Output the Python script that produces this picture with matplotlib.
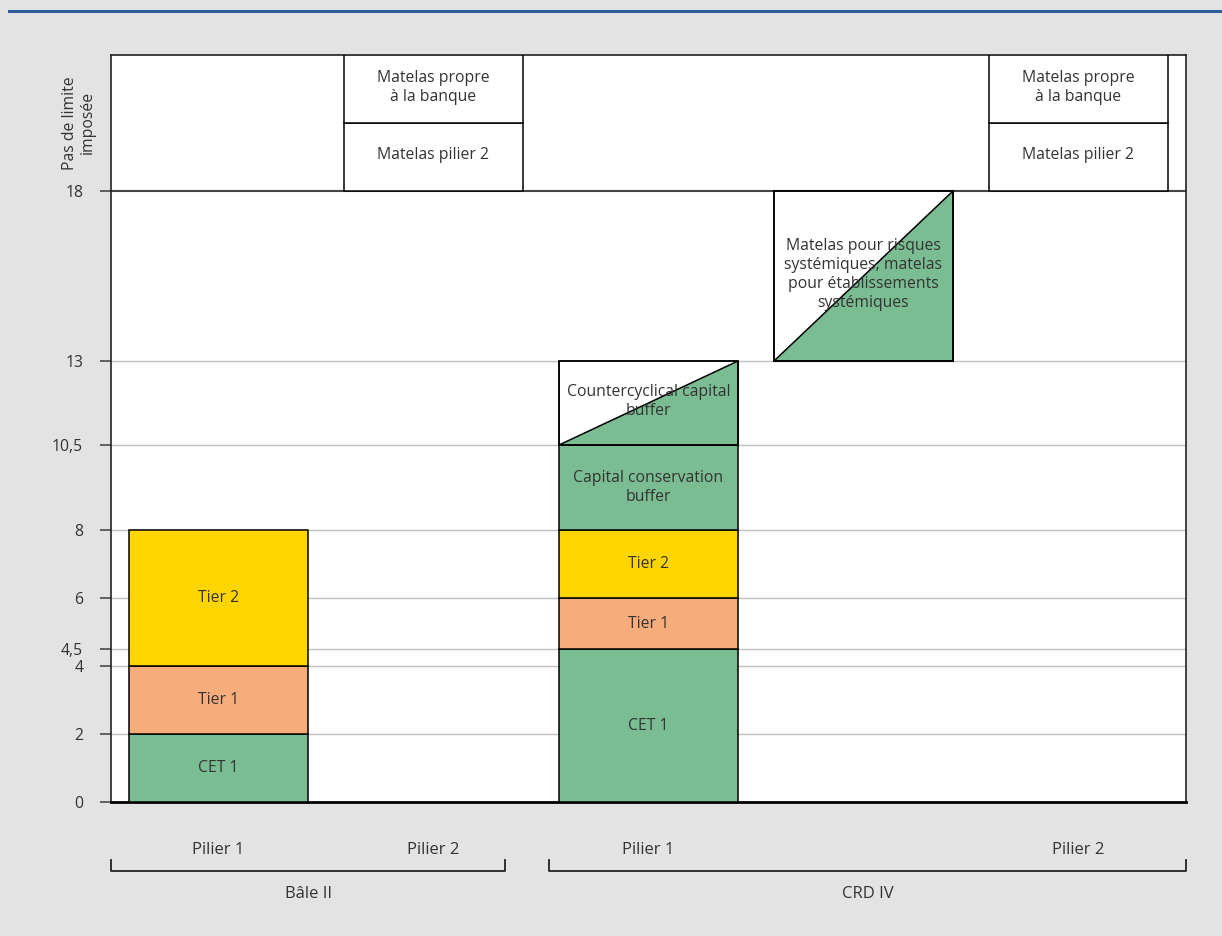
import matplotlib
matplotlib.use("Agg")
import matplotlib.pyplot as plt
from matplotlib.patches import Polygon
from matplotlib.lines import Line2D
import matplotlib.transforms as mtransforms

plt.rcParams['font.family'] = ['Open Sans', 'DejaVu Sans']

# ---------------- data ----------------
yticks = [0, 2, 4, 4.5, 6, 8, 10.5, 13, 18]
ytick_labels = ["0", "2", "4", "4,5", "6", "8", "10,5", "13", "18"]
top_limit = 22
no_limit_label = "Pas de limite\nimposée"

# Bâle II – Pilier 1 (slot 0)
b2_p1_labels = ["CET 1", "Tier 1", "Tier 2"]
b2_p1_bottom = [0, 2, 4]
b2_p1_top = [2, 4, 8]

# CRD IV – Pilier 1 (slot 2)
crd_p1_labels = ["CET 1", "Tier 1", "Tier 2", "Capital conservation\nbuffer"]
crd_p1_bottom = [0, 4.5, 6, 8]
crd_p1_top = [4.5, 6, 8, 10.5]

# triangular buffers
tri_labels = ["Countercyclical capital\nbuffer",
              "Matelas pour risques\nsystémiques, matelas\npour établissements\nsystémiques"]
tri_slots = [2, 3]
tri_bottom = [10.5, 13]
tri_top = [13, 18]

# Pilier 2 boxes (slots 1 and 4)
p2_slots = [1, 4]
p2_labels = ["Matelas pilier 2", "Matelas propre\nà la banque"]
p2_bottom = [18, 20]
p2_top = [20, 22]

# x labels
pillar_slots = [0, 1, 2, 4]
pillar_labels = ["Pilier 1", "Pilier 2", "Pilier 1", "Pilier 2"]
groups = ["Bâle II", "CRD IV"]
group_span = [(0.0, 1.833), (2.037, 5.0)]

# ---------------- style ----------------
GREEN = "#7bbd93"
ORANGE = "#f6ad7b"
YELLOW = "#ffd500"
BG = "#e3e3e3"
TXT = "#333333"
FS = 11.3
seg_colors_b2 = [GREEN, ORANGE, YELLOW]
seg_colors_crd = [GREEN, ORANGE, YELLOW, GREEN]

fig = plt.figure(figsize=(12.22, 9.36), dpi=100, facecolor=BG)
ax = fig.add_axes([111/1222, 134/936, 1075/1222, 747/936])
ax.set_facecolor("white")
ax.set_xlim(0, 5)
ax.set_ylim(0, top_limit)

W = 179/215
cx = lambda s: s + 0.5

# grid lines
for y in yticks[1:-1]:
    ax.axhline(y, color="#c0c0c0", lw=1, zorder=1)
ax.axhline(18, color="#444444", lw=1.5, zorder=1)

# stacked bars
for lab, b, t, c in zip(b2_p1_labels, b2_p1_bottom, b2_p1_top, seg_colors_b2):
    ax.bar(cx(0), t - b, bottom=b, width=W, color=c, edgecolor="black", lw=1.1, zorder=3)
    ax.text(cx(0), (b + t) / 2, lab, ha="center", va="center", fontsize=FS, color=TXT, zorder=5)
for lab, b, t, c in zip(crd_p1_labels, crd_p1_bottom, crd_p1_top, seg_colors_crd):
    ax.bar(cx(2), t - b, bottom=b, width=W, color=c, edgecolor="black", lw=1.1, zorder=3)
    ax.text(cx(2), (b + t) / 2, lab, ha="center", va="center", fontsize=FS, color=TXT,
            zorder=5, linespacing=1.25)

# triangles
for lab, s, b, t in zip(tri_labels, tri_slots, tri_bottom, tri_top):
    ax.bar(cx(s), t - b, bottom=b, width=W, color="white", edgecolor="black", lw=1.1, zorder=3)
    x0, x1 = cx(s) - W / 2, cx(s) + W / 2
    ax.add_patch(Polygon([(x0, b), (x1, b), (x1, t)], closed=True, facecolor=GREEN,
                         edgecolor="black", lw=1.1, zorder=4))
    ax.bar(cx(s), t - b, bottom=b, width=W, color="none", edgecolor="black", lw=1.1, zorder=4)
    ax.text(cx(s), (b + t) / 2 + 0.05, lab, ha="center", va="center", fontsize=FS,
            color=TXT, zorder=5, linespacing=1.25)

# Pilier 2 boxes
for s in p2_slots:
    for lab, b, t in zip(p2_labels, p2_bottom, p2_top):
        ax.bar(cx(s), t - b, bottom=b, width=W, color="white", edgecolor="black", lw=1.1, zorder=3)
        ax.text(cx(s), (b + t) / 2 + 0.05, lab, ha="center", va="center", fontsize=FS,
                color=TXT, zorder=5, linespacing=1.25)

# axes styling
ax.set_xticks([])
ax.set_yticks(yticks)
ax.set_yticklabels(ytick_labels, fontsize=11.3, color=TXT)
ax.tick_params(axis="y", length=8, width=1.3, color="#555555", pad=12)
for side in ["left", "right", "top"]:
    ax.spines[side].set_color("#222222")
    ax.spines[side].set_linewidth(1.2)
ax.spines["bottom"].set_color("black")
ax.spines["bottom"].set_linewidth(2)

ax.text(-32/1075, 20, no_limit_label,
        transform=mtransforms.blended_transform_factory(ax.transAxes, ax.transData),
        rotation=90, ha="center", va="center", fontsize=11.3, color=TXT, linespacing=1.2)

# x labels and brackets
trans = mtransforms.blended_transform_factory(ax.transData, fig.transFigure)
for s, lab in zip(pillar_slots, pillar_labels):
    ax.text(cx(s), (936 - 850) / 936, lab, transform=trans, ha="center", va="center",
            fontsize=12, color=TXT)
y_h = (936 - 871) / 936
y_e = (936 - 860) / 936
for g, (a, b) in zip(groups, group_span):
    ax.add_line(Line2D([a, a, b, b], [y_e, y_h, y_h, y_e], transform=trans, color="#222222",
                       lw=1.3, clip_on=False))
    ax.text((a + b) / 2, (936 - 894) / 936, g, transform=trans, ha="center", va="center",
            fontsize=12, color=TXT)

# blue top line
fig.add_artist(Line2D([9/1222, 1], [(936 - 11) / 936] * 2, transform=fig.transFigure,
                      color="#2f5f9e", lw=2.2))

fig.savefig("out.png", dpi=100, facecolor=BG)
